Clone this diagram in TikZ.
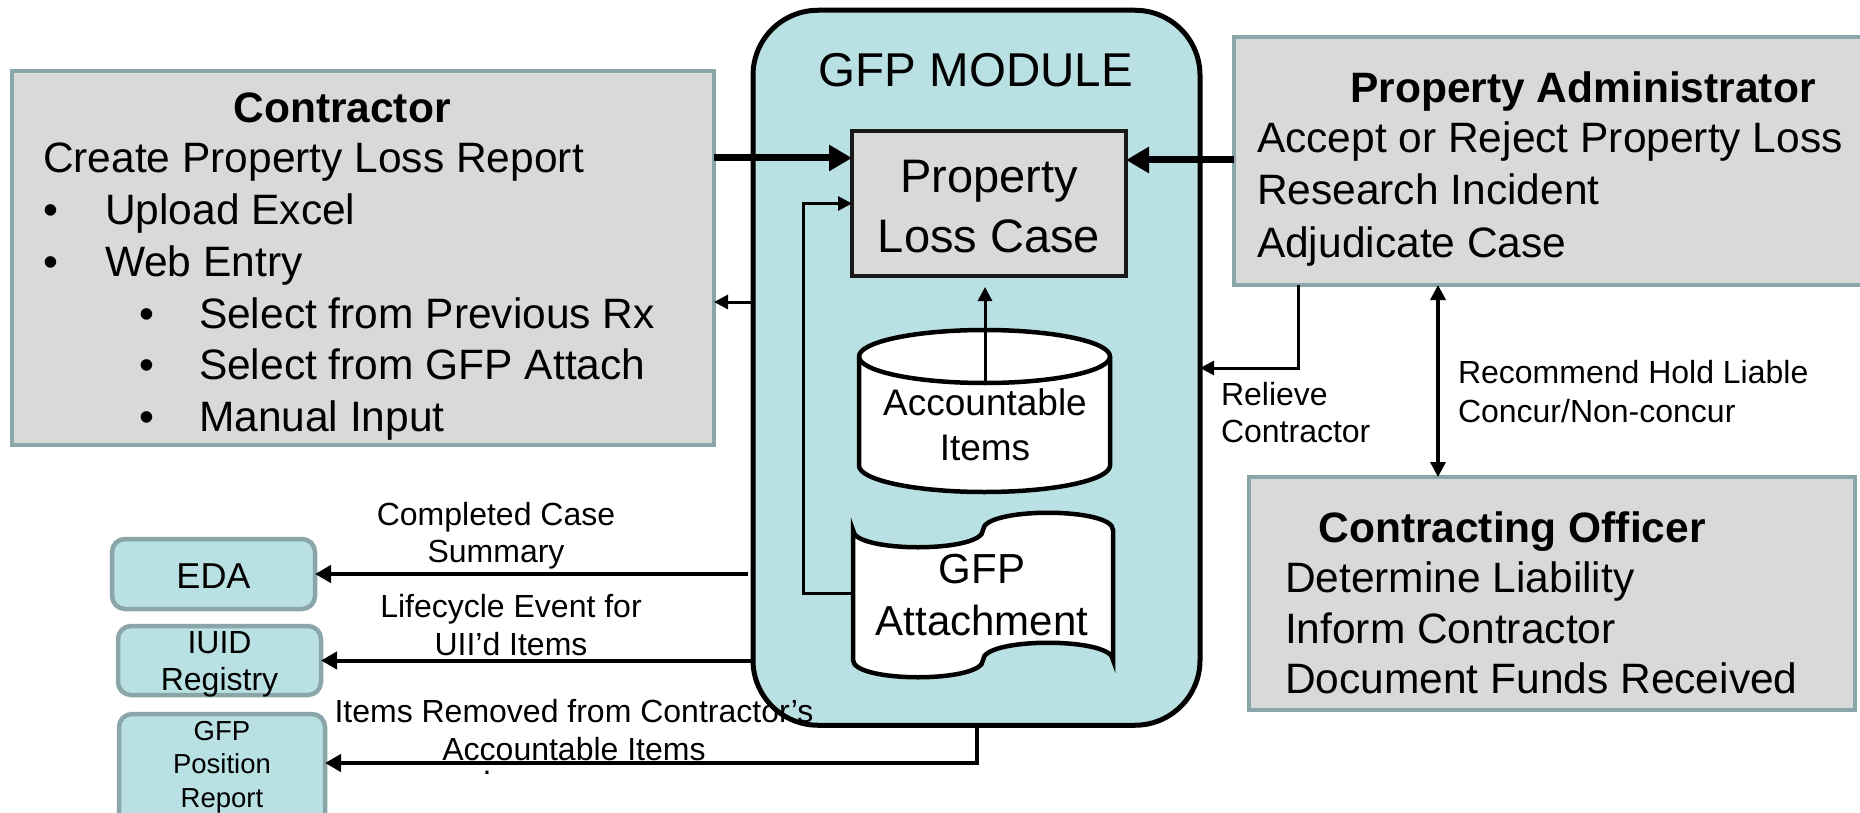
\documentclass[tikz,border=0pt]{standalone}
\usepackage{fontspec}
\setmainfont{Liberation Sans}
\usetikzlibrary{arrows.meta}

\definecolor{modfill}{RGB}{185,224,227}
\definecolor{boxgray}{RGB}{217,217,217}
\definecolor{boxedge}{RGB}{138,166,169}

\tikzset{
  every node/.style={inner sep=0pt, outer sep=0pt},
  graybox/.style={draw=boxedge, line width=4.5pt, fill=boxgray},
  tealbox/.style={draw=boxedge, line width=4.5pt, fill=modfill, rounded corners=13pt},
  modulebox/.style={draw=black, line width=5pt, fill=modfill, rounded corners=65pt},
  casebox/.style={draw=black!90, line width=4.5pt, fill=boxgray},
  store/.style={draw=black, line width=4.5pt, fill=white},
  txt/.style={font=\fontsize{42.5}{51}\selectfont, anchor=base west},
  head/.style={font=\fontsize{42.5}{51}\selectfont\bfseries, anchor=base},
  lbl/.style={font=\fontsize{32}{38}\selectfont, anchor=base},
  lblw/.style={font=\fontsize{32}{38}\selectfont, anchor=base west},
  bigarrow/.style={line width=7pt, -{Triangle[length=23pt,width=25pt]}},
  smallarrow/.style={line width=3pt, -{Triangle[length=14pt,width=14pt]}},
  midarrow/.style={line width=4pt, -{Triangle[length=16pt,width=17pt]}},
  twoway/.style={line width=3.5pt, {Triangle[length=15pt,width=15pt]}-{Triangle[length=15pt,width=15pt]}},
}

\begin{document}
\begin{tikzpicture}[x=1pt,y=-1pt]
\path[use as bounding box] (0,0) rectangle (1860,813);
\clip (0,0) rectangle (1860,813);
\fill[white] (0,0) rectangle (1860,813);

% ---------- boxes ----------
\node[graybox, minimum width=702pt, minimum height=374pt] (con) at (363,258) {};
\node[graybox, minimum width=646pt, minimum height=248pt] (pa) at (1557,161) {};
\node[graybox, minimum width=606pt, minimum height=233pt] (co) at (1552,593.5) {};

\node[modulebox, minimum width=447pt, minimum height=715pt] (mod) at (976.5,367.75) {};
\node[casebox, minimum width=274pt, minimum height=145pt] (plc) at (989,203.5) {};

\node[tealbox, minimum width=203pt, minimum height=70pt] (eda) at (213.5,574) {};
\node[tealbox, minimum width=203pt, minimum height=69pt] (iuid) at (219.5,660.5) {};
\node[tealbox, minimum width=206pt, minimum height=126pt] (pos) at (222,777) {};

% accountable items store (cylinder)
\draw[store] (859,356.5) -- (859,465.5)
  .. controls (859,480.1) and (915.2,492) .. (984.5,492)
  .. controls (1053.8,492) and (1110,480.1) .. (1110,465.5)
  -- (1110,356.5)
  .. controls (1110,341.9) and (1053.8,330) .. (984.5,330)
  .. controls (915.2,330) and (859,341.9) .. (859,356.5) -- cycle;
\draw[store, fill=none] (859,356.5)
  .. controls (859,371.1) and (915.2,383) .. (984.5,383)
  .. controls (1053.8,383) and (1110,371.1) .. (1110,356.5);

% GFP attachment (punched tape)
\draw[store] (853,530) .. controls (853,553) and (983,553) .. (983,530)
  .. controls (983,507) and (1113,507) .. (1113,530)
  -- (1113,660) .. controls (1113,637) and (983,637) .. (983,660)
  .. controls (983,683) and (853,683) .. (853,660) -- cycle;

% ---------- connector anchor points ----------
\coordinate (inrow) at (0,158);
\coordinate (parow) at (0,160);
\coordinate (backrow) at (0,302);
\coordinate (acctop) at (985,383);
\coordinate (attw) at (853,593);
\coordinate (loop) at (803,593);
\coordinate (relievebend) at (1298,368);
\coordinate (rec) at (1438,0);
\coordinate (posbend) at (977,763);

% ---------- connectors ----------
\draw[bigarrow] (inrow -| con.east) -- (inrow -| plc.west);
\draw[bigarrow] (parow -| pa.west) -- (parow -| plc.east);
\draw[smallarrow] (backrow -| mod.west) -- (backrow -| con.east);
\draw[smallarrow, shorten >=11pt] (acctop) -- (acctop |- plc.south);
\draw[smallarrow] (attw) -- (loop) |- (plc.west);
\draw[smallarrow] (relievebend |- pa.south) -- (relievebend) -- (relievebend -| mod.east);
\draw[twoway] (rec |- pa.south) -- (rec |- co.north);
\draw[midarrow] ([xshift=-5pt]eda.east -| mod.west) -- (eda.east);
\draw[midarrow] ([xshift=-2pt]iuid.east -| mod.west) -- (iuid.east);
\draw[midarrow] (posbend |- mod.south) -- (posbend) -- (posbend -| pos.east);

% ---------- texts ----------
\node[head] (ct) at (342,123) {Contractor};
\node[txt] (c1) at (43,173) {Create Property Loss Report};
\node[txt] (c2b) at (43,225) {•};
\node[txt] (c2) at (105,225) {Upload Excel};
\node[txt] (c3b) at (43,276) {•};
\node[txt] (c3) at (105,276) {Web Entry};
\node[txt] (c4b) at (139,328) {•};
\node[txt] (c4) at (199,328) {Select from Previous Rx};
\node[txt] (c5b) at (139,379) {•};
\node[txt] (c5) at (199,379) {Select from GFP Attach};
\node[txt] (c6b) at (139,431) {•};
\node[txt] (c6) at (199,431) {Manual Input};

\node[head] (pt) at (1583,103) {Property Administrator};
\node[txt] (p1) at (1257,153) {Accept or Reject Property Loss};
\node[txt] (p2) at (1257,205) {Research Incident};
\node[txt] (p3) at (1257,257) {Adjudicate Case};

\node[head] (cot) at (1512,542) {Contracting Officer};
\node[txt] (o1) at (1285,592) {Determine Liability};
\node[txt] (o2) at (1285,643) {Inform Contractor};
\node[txt] (o3) at (1285,693) {Document Funds Received};

\node[font=\fontsize{47.5}{57}\selectfont, anchor=base] (modt) at (976,87) {GFP MODULE};
\node[font=\fontsize{47}{57}\selectfont, anchor=base] (plc1) at (989,193) {Property};
\node[font=\fontsize{47}{57}\selectfont, anchor=base] (plc2) at (989,252) {Loss Case};
\node[font=\fontsize{37}{44}\selectfont, anchor=base] (acc1) at (985,415) {Accountable};
\node[font=\fontsize{37}{44}\selectfont, anchor=base] (acc2) at (985,460) {Items};
\node[font=\fontsize{42}{50}\selectfont, anchor=base] (att1) at (982,583) {GFP};
\node[font=\fontsize{42}{50}\selectfont, anchor=base] (att2) at (982,635) {Attachment};

\node[font=\fontsize{36}{43}\selectfont, anchor=base] (edat) at (213.5,588) {EDA};
\node[lbl] (iu1) at (219.5,653) {IUID};
\node[lbl] (iu2) at (219.5,690) {Registry};
\node[font=\fontsize{27.5}{33}\selectfont, anchor=base] (po1) at (222,740) {GFP};
\node[font=\fontsize{27.5}{33}\selectfont, anchor=base] (po2) at (222,773) {Position};
\node[font=\fontsize{27.5}{33}\selectfont, anchor=base] (po3) at (222,807) {Report};

\node[lbl] (l1a) at (496,525) {Completed Case};
\node[lbl] (l1b) at (496,562) {Summary};
\node[lbl] (l2a) at (511,617) {Lifecycle Event for};
\node[lbl] (l2b) at (511,655) {UII’d Items};
\node[lbl] (l3a) at (574,722) {Items Removed from Contractor’s};
\node[lbl] (l3b) at (574,760) {Accountable Items};
\node[lbl] (l3c) at (487,774) {.};
\node[lblw] (r1) at (1221,405) {Relieve};
\node[lblw] (r2) at (1221,442) {Contractor};
\node[lblw] (h1) at (1458,383) {Recommend Hold Liable};
\node[lblw] (h2) at (1458,422) {Concur/Non-concur};
\end{tikzpicture}
\end{document}
